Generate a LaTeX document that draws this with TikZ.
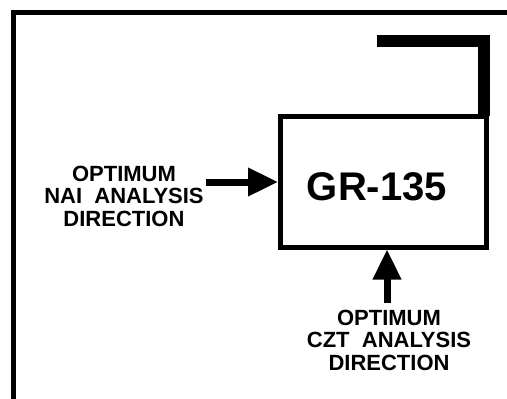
\documentclass[tikz,border=0pt]{standalone}
\usepackage{fontspec}
\setmainfont{Liberation Sans}
\usetikzlibrary{arrows.meta}
\tikzset{
  frameline/.style={line width=5pt},
  boxstyle/.style={draw, line width=5pt, minimum width=205.5pt, minimum height=130.5pt, inner sep=0pt},
  arr/.style={line width=7pt, -{Triangle[length=30pt,width=27pt]}},
  lbl/.style={align=center, font=\fontsize{22}{22.5}\selectfont\bfseries, inner sep=0pt},
  big/.style={font=\fontsize{40}{45}\selectfont\bfseries, inner sep=0pt}
}
\begin{document}
\begin{tikzpicture}[x=1pt,y=-1pt]
\useasboundingbox (0,0) rectangle (507,399);
\clip (0,0) rectangle (507,399);
\coordinate (fc) at (13,12);
\draw[frameline] (fc |- 0,410) -- (fc) -- (520,12);
\node[boxstyle] (box) at (383.25,181.75) {};
\node[big] (name) at (377,187) {GR-135};
\draw[line width=12pt, miter limit=10] (377,41) -- (484,41) -- (484,116);
\node[lbl] (nai) at (124,196) {OPTIMUM\\NAI\ \ ANALYSIS\\DIRECTION};
\node[lbl] (czt) at (389,340) {OPTIMUM\\CZT\ \ ANALYSIS\\DIRECTION};
\coordinate (a1) at (206,182);
\coordinate (a2) at (387,303);
\draw[arr] (a1) -- (a1 -| box.west);
\draw[arr] (a2) -- (a2 |- box.south);
\end{tikzpicture}
\end{document}
